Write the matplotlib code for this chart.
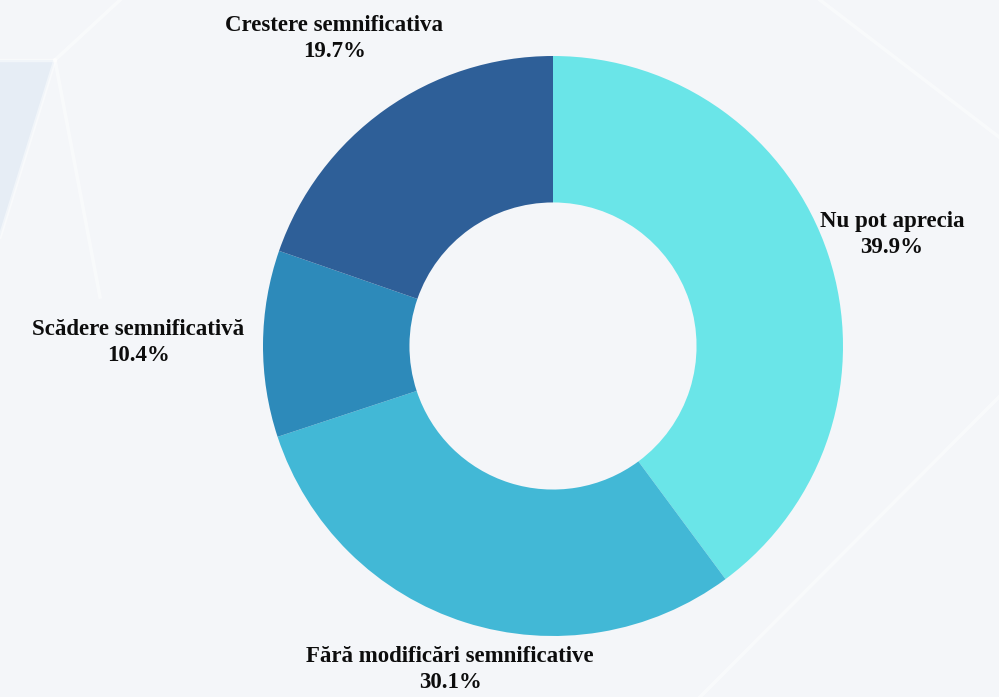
import matplotlib
matplotlib.use("Agg")
import matplotlib.pyplot as plt
import numpy as np

labels = ["Nu pot aprecia", "Fără modificări semnificative",
          "Scădere semnificativă", "Crestere semnificativa"]
shares = [39.9, 30.1, 10.4, 19.7]
colors = ["#6ae5e8", "#42b8d6", "#2d8aba", "#2e5f98"]
# how far out each label sits, as a multiple of the outer radius
label_dist = [1.23, 1.17, 1.43, 1.30]

W, H = 999, 697
fig = plt.figure(figsize=(W / 100, H / 100), dpi=100)
fig.patch.set_facecolor("#f4f6f9")
ax = fig.add_axes([0, 0, 1, 1])
ax.set_xlim(0, W)
ax.set_ylim(0, H)
ax.set_aspect("equal")
ax.axis("off")

# faint background geometry
ax.fill([0, 55, 0], [637, 637, 460], color="#e6edf5", zorder=0, lw=0)
for (x0, y0, x1, y1) in [(0, 637, 55, 637), (55, 637, 120, 697), (55, 637, 0, 460),
                         (55, 637, 100, 400), (700, 0, 999, 300), (820, 697, 999, 560)]:
    ax.plot([x0, x1], [y0, y1], color="white", lw=2.5, alpha=0.45, zorder=0)

cx, cy, R = 553, 351, 290
wedges, _ = ax.pie(shares, colors=colors, startangle=90, counterclock=False,
                   center=(cx, cy), radius=R,
                   wedgeprops=dict(width=R * 0.505, linewidth=0))
ax.set_xlim(0, W)
ax.set_ylim(0, H)

for w, name, val, d in zip(wedges, labels, shares, label_dist):
    ang = np.deg2rad((w.theta1 + w.theta2) / 2)
    x = cx + d * R * np.cos(ang)
    y = cy + d * R * np.sin(ang)
    ax.text(x, y, f"{name}\n{val}%", ha="center", va="center",
            fontsize=16.5, fontweight="bold", family="Liberation Serif",
            color="#0d0d0d", linespacing=1.3)

fig.savefig("out.png", dpi=100, facecolor=fig.get_facecolor())
